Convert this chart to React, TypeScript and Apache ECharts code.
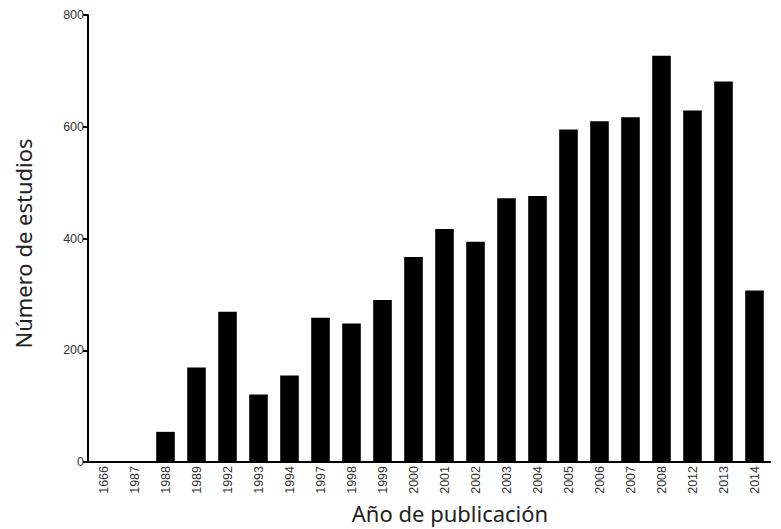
import React, { useEffect, useRef } from "react";
import * as echarts from "echarts";

const years = ["1666", "1987", "1988", "1989", "1992", "1993", "1994", "1997", "1998", "1999", "2000", "2001", "2002", "2003", "2004", "2005", "2006", "2007", "2008", "2012", "2013", "2014"];
const studies = [1, 1, 54, 169, 269, 121, 155, 258, 248, 290, 367, 417, 394, 472, 476, 595, 610, 617, 727, 629, 681, 307];
const yTicks = { min: 0, max: 800, interval: 200 };

export default function App() {
  const ref = useRef<HTMLDivElement>(null);
  useEffect(() => {
    if (!ref.current) return;
    const chart = echarts.init(ref.current, null, { renderer: "svg" });
    chart.setOption({
      animation: false,
      grid: { left: 88, right: 11, top: 15, bottom: 65 },
      xAxis: {
        type: "category",
        data: years,
        name: "Año de publicación",
        nameLocation: "middle",
        nameGap: 40,
        nameTextStyle: { fontFamily: "Noto Sans", fontSize: 22, color: "#222", padding: [0, 0, 0, 42] },
        axisLine: { lineStyle: { color: "#000", width: 2 } },
        axisTick: { alignWithLabel: true, length: 5, lineStyle: { color: "#000", width: 2 } },
        axisLabel: { rotate: 90, fontSize: 12.5, color: "#333", fontFamily: "Liberation Sans", margin: 4 },
      },
      yAxis: {
        type: "value",
        min: yTicks.min,
        max: yTicks.max,
        interval: yTicks.interval,
        name: "Número de estudios",
        nameLocation: "middle",
        nameGap: 54,
        nameTextStyle: { fontFamily: "Noto Sans", fontSize: 22, color: "#222", padding: [0, 10, 0, 0] },
        axisLine: { show: true, lineStyle: { color: "#000", width: 2 } },
        axisTick: { show: true, length: 5, lineStyle: { color: "#000", width: 2 } },
        axisLabel: { fontSize: 12.5, color: "#333", fontFamily: "Liberation Sans", margin: 4 },
        splitLine: { show: false },
      },
      series: [
        {
          type: "bar",
          data: studies,
          barWidth: "60%",
          itemStyle: { color: "#000" },
        },
      ],
    });
    return () => chart.dispose();
  }, []);
  return <div ref={ref} style={{ width: 781, height: 529, position: "absolute", left: 0, top: 0 }} />;
}
